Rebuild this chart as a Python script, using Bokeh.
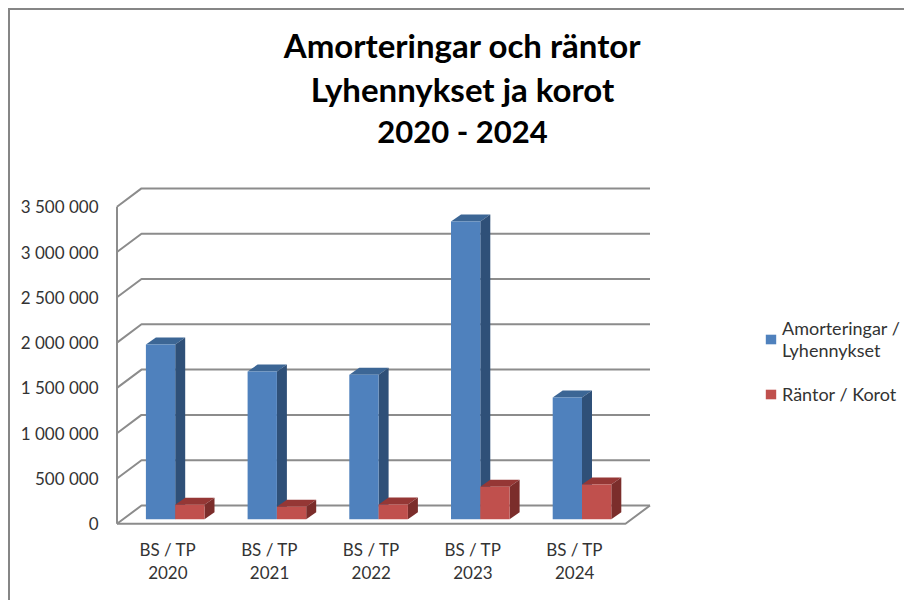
from bokeh.plotting import figure
from bokeh.models import Range1d, LinearAxis, FixedTicker, Legend, LegendItem, Label
from bokeh.core.properties import value
from bokeh.embed import file_html
from bokeh.resources import INLINE

title_lines = ["Amorteringar och räntor", "Lyhennykset ja korot", "2020 - 2024"]
categories = ["BS / TP\n2020", "BS / TP\n2021", "BS / TP\n2022", "BS / TP\n2023", "BS / TP\n2024"]
amorteringar = [1928000, 1630000, 1595000, 3285000, 1343000]
rantor = [159000, 137000, 162000, 358000, 383000]
y_ticks = [0, 500000, 1000000, 1500000, 2000000, 2500000, 3000000, 3500000]
y_labels = ["0", "500 000", "1 000 000", "1 500 000", "2 000 000", "2 500 000", "3 000 000", "3 500 000"]
series_names = ["Amorteringar /\nLyhennykset", "Räntor / Korot"]

# projection constants
PX_X = 101.7
PX_Y = 500000 / 45.3
DX = 24.5 / PX_X
DY = 18.3 * PX_Y
BAR_W = 29.3 / PX_X
BAR_DX = 10 / PX_X
BAR_DY = 7 * PX_Y
BASE = 4.6 * PX_Y
X0 = -0.5
X1 = 4.5
BAR_SHIFT = (174.7 - 167.35) / PX_X

OFF = 10  # margin + border of the figure on the page
W, H = 906 - OFF, 602 - OFF
FL, FR, FT, FB = 112, 906, 10, 530   # frame edges in page pixels
p = figure(width=W, height=H, output_backend="svg", toolbar_location=None,
           min_border_left=FL - OFF, min_border_right=0, min_border_top=FT - OFF, min_border_bottom=602 - FB,
           x_range=Range1d((FL - 167.35) / PX_X, (FR - 167.35) / PX_X),
           y_range=Range1d(-(FB - 523.3) * PX_Y, (523.3 - FT) * PX_Y),
           x_axis_location=None, y_axis_location=None, outline_line_color=None,
           background_fill_color="white", border_fill_color="white")
p.grid.visible = False
p.styles = {"margin-left": "8px", "margin-top": "8px",
            "border-top": "2px solid #868686", "border-left": "2px solid #868686"}

GRID = "#8c8c8c"
xs, ys = [], []
for t in y_ticks:
    xs.append([X0, X0 + DX, X1 + DX])
    ys.append([t, t + DY, t + DY])
xs.append([X0, X0]); ys.append([0, y_ticks[-1]])
xs.append([X0, X1, X1 + DX]); ys.append([0, 0, DY])
p.multi_line(xs, ys, line_color=GRID, line_width=2)

def box(x, w, v, front, top, side):
    l, r = x, x + w
    b, t = BASE, BASE + v
    p.patch([l, l + BAR_DX, r + BAR_DX, r], [t, t + BAR_DY, t + BAR_DY, t], fill_color=top, line_color=None)
    p.patch([r, r + BAR_DX, r + BAR_DX, r], [b, b + BAR_DY, t + BAR_DY, t], fill_color=side, line_color=None)
    return p.quad(left=[l], right=[r], bottom=[b], top=[t], fill_color=front, line_color=None)

r1 = r2 = None
for i in range(len(categories)):
    c = i + BAR_SHIFT
    r1 = box(c - BAR_W, BAR_W, amorteringar[i], "#4f81bd", "#3c6695", "#2f5078")
    r2 = box(c, BAR_W, rantor[i], "#c0504d", "#953735", "#7b2d2b")

yaxis = LinearAxis(ticker=FixedTicker(ticks=y_ticks),
                   major_label_overrides=dict(zip(y_ticks, y_labels)),
                   axis_line_color=None, major_tick_line_color=None, minor_tick_line_color=None,
                   major_label_text_font="Lato", major_label_text_font_size="17px",
                   major_label_text_color="#333333", major_label_standoff=8)
p.add_layout(yaxis, "left")
xaxis = LinearAxis(ticker=FixedTicker(ticks=list(range(5))),
                   major_label_overrides=dict(zip(range(5), categories)),
                   axis_line_color=None, major_tick_line_color=None, minor_tick_line_color=None,
                   major_label_text_font="Lato", major_label_text_font_size="17px",
                   major_label_text_line_height=1.1,
                   major_label_text_color="#333333", major_label_standoff=2)
p.add_layout(xaxis, "below")

for line, y, size in zip(title_lines, [44, 88, 130], ["33px", "33px", "31px"]):
    p.add_layout(Label(x=462 - FL, y=FB - y, x_units="screen", y_units="screen", text=line,
                       text_align="center", text_baseline="middle", text_font="Lato",
                       text_font_style="bold", text_font_size=size, text_color="#000000"))

legend = Legend(items=[LegendItem(label=value(series_names[0]), renderers=[r1]),
                       LegendItem(label=value(series_names[1]), renderers=[r2])],
                location=(652, 125), border_line_color=None, background_fill_alpha=0,
                glyph_width=13, glyph_height=12, label_text_font="Lato", label_text_font_size="18px",
                label_text_line_height=1.5,
                label_text_color="#333333", spacing=22, padding=0, margin=0, label_standoff=5)
p.add_layout(legend, "center")

open("out.html", "w").write(file_html(p, INLINE))
